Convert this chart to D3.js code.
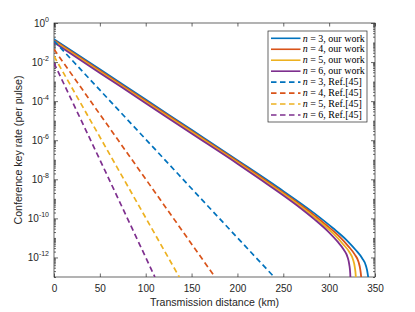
<!DOCTYPE html>
<html><head><meta charset="utf-8">
<script src="https://cdn.jsdelivr.net/npm/d3@7"></script>
<style>
html,body{margin:0;padding:0;background:#fff;}
svg{display:block;}
</style></head>
<body>
<svg id="chart" width="415" height="312"></svg>
<script>
// ---------------- DATA ----------------
const xTicks = [0, 50, 100, 150, 200, 250, 300, 350];
const yMajorExp = [0, -2, -4, -6, -8, -10, -12];
const seriesNames = ["n = 3, our work", "n = 4, our work", "n = 5, our work", "n = 6, our work",
                     "n = 3, Ref.[45]", "n = 4, Ref.[45]", "n = 5, Ref.[45]", "n = 6, Ref.[45]"];
const colors = ["#0072BD", "#D95319", "#EDB120", "#7E2F8E"];

// our work (solid)
const oursN3Km   = [0, 50, 100, 150, 200, 244, 284, 304, 319, 329, 336, 340, 342, 343, 343.5];
const oursN3Rate = [1.5e-1, 4.3e-3, 1.2e-4, 3.4e-6, 9.5e-8, 3.9e-9, 1.8e-10, 3.2e-11, 7.8e-12, 2.4e-12, 9.1e-13, 3.9e-13, 1.5e-13, 5.6e-14, 1.1e-14];
const oursN4Km   = [0, 50, 100, 150, 200, 236, 276, 296, 311, 321, 328, 332, 334, 335, 335.7];
const oursN4Rate = [1.32e-1, 3.7e-3, 1.05e-4, 2.95e-6, 8.3e-8, 5.9e-9, 2.75e-10, 4.9e-11, 1.2e-11, 3.7e-12, 1.4e-12, 6.0e-13, 2.3e-13, 8.6e-14, 1.6e-14];
const oursN5Km   = [0, 50, 100, 150, 200, 230, 270, 290, 305, 315, 322, 326, 328, 329, 329.7];
const oursN5Rate = [1.15e-1, 3.2e-3, 9.1e-5, 2.6e-6, 7.2e-8, 7.9e-9, 3.7e-10, 6.6e-11, 1.6e-11, 4.9e-12, 1.9e-12, 7.9e-13, 3.1e-13, 1.15e-13, 2e-14];
const oursN6Km   = [0, 50, 100, 150, 200, 224, 264, 284, 299, 309, 316, 320, 322, 323, 323.6];
const oursN6Rate = [1.0e-1, 2.8e-3, 7.9e-5, 2.2e-6, 6.3e-8, 1.07e-8, 5.0e-10, 8.9e-11, 2.1e-11, 6.6e-12, 2.5e-12, 1.07e-12, 4.2e-13, 1.5e-13, 2.5e-14];

// Ref.[45] (dashed)
const refN3Km   = [0, 100, 200, 240];
const refN3Rate = [1.23e-1, 1.12e-6, 1.02e-11, 1.0e-13];
const refN4Km   = [0, 100, 175.5];
const refN4Rate = [4.5e-2, 1.02e-8, 1.0e-13];
const refN5Km   = [0, 100, 136.6];
const refN5Rate = [2.0e-2, 1.07e-10, 1.0e-13];
const refN6Km   = [0, 50, 110];
const refN6Rate = [8.9e-3, 1.0e-7, 1.0e-13];

// ---------------- CHART ----------------
const L = 54, R = 375, T = 23, B = 277;
const svg = d3.select("#chart");
const x = d3.scaleLinear().domain([0, 350]).range([L, R]);
const y = d3.scaleLog().domain([1e-13, 1]).range([B, T]);
const axisColor = "#262626";
const font = "'Liberation Sans', Arial, Helvetica, sans-serif";

svg.append("rect").attr("width", 415).attr("height", 312).attr("fill", "#fff");

svg.append("defs").append("clipPath").attr("id", "clip")
  .append("rect").attr("x", L).attr("y", T).attr("width", R - L).attr("height", B - T);

// axes ticks
const minorVals = [];
for (let e = -13; e < 0; e++) {
  for (let m = 1; m <= 9; m++) {
    const v = m * Math.pow(10, e);
    if (m === 1 && yMajorExp.includes(e)) continue;
    minorVals.push(v);
  }
}
const majorVals = yMajorExp.map(e => Math.pow(10, e));

function styleAxis(g) {
  g.select(".domain").remove();
  g.selectAll(".tick line").attr("stroke", axisColor).attr("stroke-width", 0.7);
  g.selectAll("text").attr("fill", axisColor).attr("font-family", font).attr("font-size", 10);
}

svg.append("g").attr("transform", `translate(0,${B})`)
  .call(d3.axisBottom(x).tickValues(xTicks).tickSize(-3.5).tickPadding(8).tickFormat(d3.format("d")))
  .call(styleAxis);
svg.append("g").attr("transform", `translate(0,${T})`)
  .call(d3.axisTop(x).tickValues(xTicks).tickSize(-3.5).tickFormat(""))
  .call(styleAxis);
svg.append("g").attr("transform", `translate(${L},0)`)
  .call(d3.axisLeft(y).tickValues(majorVals).tickSize(-4).tickFormat(""))
  .call(styleAxis);
svg.append("g").attr("transform", `translate(${L},0)`)
  .call(d3.axisLeft(y).tickValues(minorVals).tickSize(-2).tickFormat(""))
  .call(styleAxis);
svg.append("g").attr("transform", `translate(${R},0)`)
  .call(d3.axisRight(y).tickValues(majorVals).tickSize(-4).tickFormat(""))
  .call(styleAxis);
svg.append("g").attr("transform", `translate(${R},0)`)
  .call(d3.axisRight(y).tickValues(minorVals).tickSize(-2).tickFormat(""))
  .call(styleAxis);

// y tick labels with superscripts
const ylab = svg.append("g");
yMajorExp.forEach(e => {
  const t = ylab.append("text")
    .attr("x", L - 5).attr("y", y(Math.pow(10, e)) + 3.5)
    .attr("text-anchor", "end").attr("fill", axisColor)
    .attr("font-family", font).attr("font-size", 10);
  t.append("tspan").text("10");
  t.append("tspan").attr("dy", -4.5).attr("font-size", 7).text(String(e));
});

// box
svg.append("rect").attr("x", L).attr("y", T).attr("width", R - L).attr("height", B - T)
  .attr("fill", "none").attr("stroke", axisColor).attr("stroke-width", 0.7);

// lines
const line = d3.line().x(d => x(d[0])).y(d => y(d[1])).curve(d3.curveMonotoneX);
const zip = (a, b) => a.map((v, i) => [v, b[i]]);
const solid = [zip(oursN3Km, oursN3Rate), zip(oursN4Km, oursN4Rate), zip(oursN5Km, oursN5Rate), zip(oursN6Km, oursN6Rate)];
const dashed = [zip(refN3Km, refN3Rate), zip(refN4Km, refN4Rate), zip(refN5Km, refN5Rate), zip(refN6Km, refN6Rate)];

const plot = svg.append("g").attr("clip-path", "url(#clip)");
solid.forEach((s, i) => {
  plot.append("path").attr("d", line(s)).attr("fill", "none")
    .attr("stroke", colors[i]).attr("stroke-width", 1.8);
});
dashed.forEach((s, i) => {
  plot.append("path").attr("d", line(s)).attr("fill", "none")
    .attr("stroke", colors[i]).attr("stroke-width", 1.7).attr("stroke-dasharray", "5.5,3.5");
});

// axis labels
svg.append("text").attr("x", (L + R) / 2).attr("y", 306).attr("text-anchor", "middle")
  .attr("fill", axisColor).attr("font-family", font).attr("font-size", 10.6)
  .text("Transmission distance (km)");
svg.append("text").attr("transform", `translate(22,${(T + B) / 2}) rotate(-90)`)
  .attr("text-anchor", "middle").attr("fill", axisColor).attr("font-family", font).attr("font-size", 10.6)
  .text("Conference key rate (per pulse)");

// legend
const lg = svg.append("g");
lg.append("rect").attr("x", 268).attr("y", 31).attr("width", 99).attr("height", 91)
  .attr("fill", "#fff").attr("stroke", axisColor).attr("stroke-width", 0.7);
seriesNames.forEach((name, i) => {
  const yy = 38.3 + i * 10.96;
  const c = colors[i % 4];
  lg.append("line").attr("x1", 271).attr("x2", 300.5).attr("y1", yy).attr("y2", yy)
    .attr("stroke", c).attr("stroke-width", 1.6)
    .attr("stroke-dasharray", i >= 4 ? "5.5,3.5" : null);
  const t = lg.append("text").attr("x", 302.7).attr("y", yy + 3.2)
    .attr("font-family", "'Liberation Serif', 'Times New Roman', serif").attr("font-size", 10)
    .attr("fill", "#000");
  t.append("tspan").attr("font-style", "italic").text(name.slice(0, 1));
  t.append("tspan").text(name.slice(1));
});
</script>
</body></html>
